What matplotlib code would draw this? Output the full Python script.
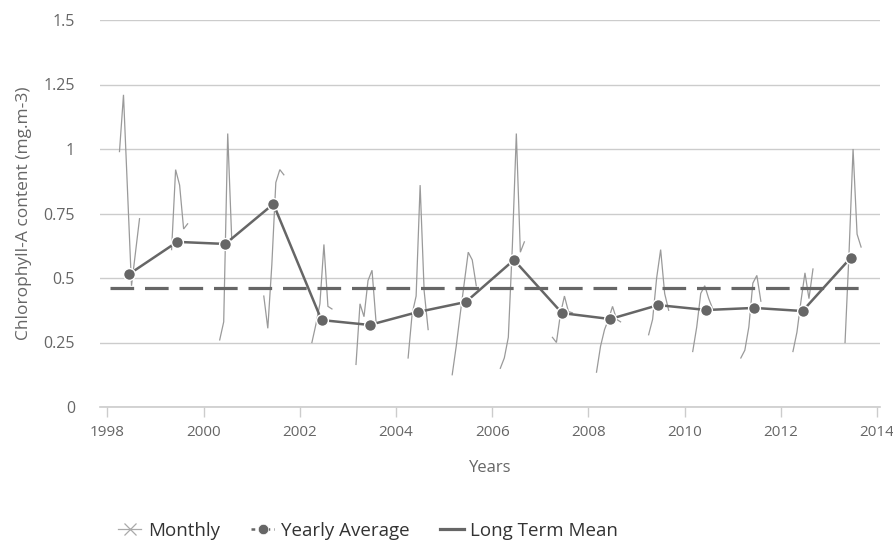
import numpy as np
import matplotlib
matplotlib.use("Agg")
import matplotlib.pyplot as plt
from matplotlib.lines import Line2D

# ---------------- data ----------------
# Monthly values, one block per year: (year, first month, values...)
monthly_years = [1998, 1999, 2000, 2001, 2002, 2003, 2004, 2005,
                 2006, 2007, 2008, 2009, 2010, 2011, 2012, 2013]
monthly_start = [4, 5, 5, 4, 4, 3, 4, 3, 3, 4, 3, 4, 3, 3, 4, 5]
monthly_values = [
    [0.99, 1.21, 0.84, 0.47, 0.60, 0.73],
    [0.61, 0.92, 0.86, 0.69, 0.71],
    [0.26, 0.33, 1.06, 0.65],
    [0.43, 0.305, 0.55, 0.87, 0.92, 0.90],
    [0.25, 0.32, 0.40, 0.63, 0.39, 0.38],
    [0.165, 0.40, 0.35, 0.49, 0.53, 0.33],
    [0.19, 0.36, 0.43, 0.86, 0.45, 0.30],
    [0.125, 0.235, 0.36, 0.48, 0.60, 0.57, 0.47],
    [0.15, 0.19, 0.27, 0.62, 1.06, 0.60, 0.64],
    [0.27, 0.25, 0.36, 0.43, 0.37, 0.365],
    [0.135, 0.235, 0.30, 0.34, 0.39, 0.34, 0.33],
    [0.28, 0.34, 0.50, 0.61, 0.44, 0.375],
    [0.215, 0.31, 0.44, 0.47, 0.42, 0.38],
    [0.19, 0.22, 0.31, 0.48, 0.51, 0.41],
    [0.215, 0.29, 0.41, 0.52, 0.42, 0.535],
    [0.25, 0.60, 1.00, 0.67, 0.62],
]

yearly_years = list(range(1998, 2014))
yearly_values = [0.515, 0.64, 0.632, 0.787, 0.337, 0.318, 0.368, 0.407,
                 0.57, 0.364, 0.341, 0.395, 0.376, 0.384, 0.372, 0.578]
yearly_offset = 0.45  # position of yearly mean within each year

long_term_mean = 0.461
mean_span = [1998.05, 2013.84]

y_ticks = [0, 0.25, 0.5, 0.75, 1, 1.25, 1.5]
y_tick_labels = ["0", "0.25", "0.5", "0.75", "1", "1.25", "1.5"]
x_ticks = list(range(1998, 2015, 2))

# ---------------- style ----------------
plt.rcParams["font.family"] = ["Open Sans", "DejaVu Sans"]
TEXT = "#666666"
MONTHLY = "#9a9a9a"
DARK = "#666666"
GRID = "#cccccc"

fig = plt.figure(figsize=(8.93, 5.43), dpi=100)
ax = fig.add_axes([100 / 893, (543 - 407) / 543, 780 / 893, 387 / 543])

# monthly line (broken between years)
mx, my = [], []
for yr, m0, vals in zip(monthly_years, monthly_start, monthly_values):
    for i, v in enumerate(vals):
        mx.append(yr + (m0 - 1 + i) / 12)
        my.append(v)
    mx.append(np.nan)
    my.append(np.nan)
ax.plot(mx, my, color=MONTHLY, lw=0.9, zorder=3, solid_joinstyle="miter")

# long-term mean
ax.plot(mean_span, [long_term_mean, long_term_mean], color=DARK, lw=2.3,
        dashes=(7.4, 3.4), zorder=4, solid_capstyle="butt", dash_capstyle="butt")

# yearly average
yx = [y + yearly_offset for y in yearly_years]
ax.plot(yx, yearly_values, color=DARK, lw=1.8, marker="o", ms=8.5,
        mfc=DARK, mec="white", mew=1.0, zorder=5)

# axes formatting
ax.set_xlim(1997.845, 2014.06)
ax.set_ylim(0, 1.5)
ax.set_yticks(y_ticks)
ax.set_yticklabels(y_tick_labels)
ax.set_xticks(x_ticks)
ax.grid(axis="y", color=GRID, lw=1.0)
ax.set_axisbelow(True)
for s in ["top", "right", "left"]:
    ax.spines[s].set_visible(False)
ax.spines["bottom"].set_color(GRID)
ax.spines["bottom"].set_linewidth(1.2)
ax.tick_params(axis="y", length=0, pad=18, labelsize=11.5, labelcolor=TEXT)
ax.tick_params(axis="x", length=7, width=1, color=GRID, pad=6,
               labelsize=11, labelcolor=TEXT)

ax.set_ylabel("Chlorophyll-A content (mg.m-3)", fontsize=12.5, color=TEXT,
              labelpad=8)
ax.set_xlabel("Years", fontsize=12, color=TEXT, labelpad=14)

# legend
handles = [
    Line2D([], [], color="#aaaaaa", lw=0.9, marker="x", ms=8, mew=0.9),
    Line2D([], [], color=DARK, lw=1.8, dashes=(1.5, 1.5), marker="o", ms=7.5,
           mec="white", mew=0.5),
    Line2D([], [], color=DARK, lw=2.3),
]
labels = ["Monthly", "Yearly Average", "Long Term Mean"]
fig.legend(handles, labels, loc="center left",
           bbox_to_anchor=(101 / 893, 12 / 543),
           ncol=3, frameon=False, fontsize=13.5, handlelength=1.25,
           handletextpad=0.35, columnspacing=1.65, labelcolor="#333333")

fig.savefig("out.png", dpi=100)
